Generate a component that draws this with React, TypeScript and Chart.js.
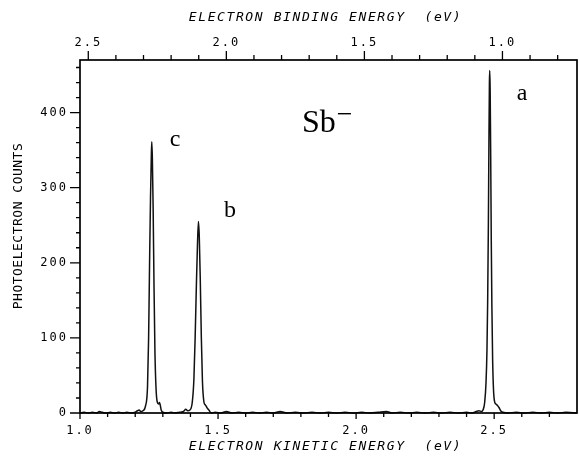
import React, { useEffect, useRef } from 'react';
import { Chart, registerables } from 'chart.js';

Chart.register(...registerables);

// Photon energy (eV): binding energy = PHOTON_ENERGY - kinetic energy
const PHOTON_ENERGY = 3.53;
const KE_MIN = 1.0;
const KE_MAX = 2.8;
const COUNT_MAX = 470;

// Electron kinetic energy (eV) of each sample of the trace
const KE = [
  1.0, 1.015, 1.03, 1.045, 1.06, 1.07, 1.08, 1.095, 1.11, 1.125, 1.14, 1.155, 1.17, 1.185, 1.2,
  1.208, 1.214, 1.22, 1.228, 1.237, 1.2445, 1.2485, 1.252, 1.2555, 1.2585, 1.26, 1.262, 1.265,
  1.268, 1.2715, 1.2755, 1.2796, 1.285, 1.288, 1.2941, 1.3, 1.315, 1.33, 1.345, 1.36, 1.375, 1.383,
  1.39, 1.398, 1.4065, 1.4125, 1.417, 1.4215, 1.4255, 1.429, 1.432, 1.4355, 1.4395, 1.4435,
  1.4487, 1.453, 1.4571, 1.462, 1.4668, 1.4753, 1.49, 1.51, 1.53, 1.55, 1.575, 1.6, 1.625, 1.65,
  1.675, 1.7, 1.725, 1.75, 1.78, 1.81, 1.84, 1.87, 1.9, 1.93, 1.96, 1.99, 2.02, 2.05, 2.08, 2.11,
  2.13, 2.16, 2.19, 2.22, 2.25, 2.28, 2.31, 2.34, 2.37, 2.4, 2.42, 2.435, 2.445, 2.4536, 2.4596,
  2.4656, 2.4704, 2.474, 2.4765, 2.479, 2.481, 2.4828, 2.484, 2.4855, 2.4875, 2.4895, 2.4918,
  2.4945, 2.4975, 2.5015, 2.506, 2.512, 2.518, 2.5236, 2.5319, 2.55, 2.58, 2.61, 2.64, 2.67, 2.7,
  2.73, 2.76, 2.8,
];

// Photoelectron counts at each sample
const COUNTS = [
  0, 1, 0, 1, 0, 2, 1, 0, 1, 0, 1, 0, 1, 0, 1,
  3, 4, 2, 3, 9, 35, 100, 200, 290, 345, 361, 340, 270,
  170, 80, 32, 15, 12, 14, 4, 1, 0, 1, 0, 1, 2, 5,
  3, 4, 14, 45, 100, 170, 225, 255, 235, 180, 100, 42,
  15, 11, 9, 6, 4, 0, 1, 0, 2, 0, 1, 0, 1, 0,
  1, 0, 2, 0, 1, 0, 1, 0, 1, 0, 1, 0, 1, 0, 1, 2,
  0, 1, 0, 1, 0, 1, 0, 1, 0, 1, 0, 2, 3, 2, 4,
  14, 40, 85, 150, 250, 360, 440, 456, 430, 340, 230, 140,
  70, 32, 15, 12, 10, 7, 3, 1, 0, 1, 0, 1, 0, 1,
  0, 1, 0,
];

// Tick values
const KE_TICKS = [1.0, 1.1, 1.2, 1.3, 1.4, 1.5, 1.6, 1.7, 1.8, 1.9, 2.0, 2.1, 2.2, 2.3, 2.4, 2.5, 2.6, 2.7];
const BE_TICKS = [2.5, 2.4, 2.3, 2.2, 2.1, 2.0, 1.9, 1.8, 1.7, 1.6, 1.5, 1.4, 1.3, 1.2, 1.1, 1.0, 0.9, 0.8];
const COUNT_TICKS = [0, 20, 40, 60, 80, 100, 120, 140, 160, 180, 200, 220, 240, 260, 280, 300, 320, 340, 360, 380, 400, 420, 440, 460];

const X_TITLE = 'ELECTRON KINETIC ENERGY  (eV)';
const X2_TITLE = 'ELECTRON BINDING ENERGY  (eV)';
const Y_TITLE = 'PHOTOELECTRON COUNTS';

// Peak labels, anchored in data coordinates (kinetic energy, counts)
const PEAK_LABELS = ['a', 'b', 'c'];
const PEAK_LABEL_KE = [2.601, 1.543, 1.344];
const PEAK_LABEL_COUNTS = [417, 261, 356];
const SPECIES = 'Sb';
const SPECIES_CHARGE = '\u2212';
const SPECIES_KE = 1.804;
const SPECIES_COUNTS = 374;

const isMultiple = (v: number, step: number) => Math.abs(v / step - Math.round(v / step)) < 1e-6;

const framePlugin = {
  id: 'frame',
  beforeDraw(chart: any) {
    chart.ctx.letterSpacing = '2px';
  },
  afterDraw(chart: any) {
    const { ctx, chartArea: a, scales } = chart;
    ctx.save();
    ctx.letterSpacing = '0px';
    ctx.strokeStyle = '#000';
    ctx.fillStyle = '#000';
    ctx.lineCap = 'butt';

    // frame
    ctx.lineWidth = 1.7;
    ctx.strokeRect(a.left, a.top, a.right - a.left, a.bottom - a.top);

    ctx.lineWidth = 1.3;
    ctx.beginPath();
    for (const t of scales.x.ticks) {
      const px = scales.x.getPixelForValue(t.value);
      const len = isMultiple(t.value, 0.5) ? 6 : 4;
      ctx.moveTo(px, a.bottom);
      ctx.lineTo(px, a.bottom + len);
    }
    for (const t of scales.x2.ticks) {
      const px = scales.x2.getPixelForValue(t.value);
      const len = isMultiple(t.value, 0.5) ? 9 : 5;
      ctx.moveTo(px, a.top);
      ctx.lineTo(px, a.top - len);
    }
    for (const t of scales.y.ticks) {
      const py = scales.y.getPixelForValue(t.value);
      const len = isMultiple(t.value, 100) ? 10 : 4;
      ctx.moveTo(a.left, py);
      ctx.lineTo(a.left - len, py);
    }
    ctx.stroke();

    // axis titles
    const cx = (a.left + a.right) / 2 - 3;
    ctx.font = 'italic 13px "DejaVu Sans Mono"';
    ctx.letterSpacing = '1.6px';
    ctx.textAlign = 'center';
    ctx.textBaseline = 'middle';
    ctx.fillText(X2_TITLE, cx, 18);
    ctx.fillText(X_TITLE, cx, 447);
    ctx.save();
    ctx.font = '13px "DejaVu Sans Mono"';
    ctx.letterSpacing = '0.5px';
    ctx.translate(19, 226);
    ctx.rotate(-Math.PI / 2);
    ctx.fillText(Y_TITLE, 0, 0);
    ctx.restore();

    // annotations
    ctx.letterSpacing = '0px';
    ctx.textBaseline = 'alphabetic';
    ctx.font = '24px "Liberation Serif"';
    ctx.textAlign = 'center';
    PEAK_LABELS.forEach((lab, i) => {
      ctx.fillText(lab, scales.x.getPixelForValue(PEAK_LABEL_KE[i]), scales.y.getPixelForValue(PEAK_LABEL_COUNTS[i]));
    });
    ctx.textAlign = 'left';
    ctx.font = '32px "Liberation Serif"';
    const sx = scales.x.getPixelForValue(SPECIES_KE);
    const sy = scales.y.getPixelForValue(SPECIES_COUNTS);
    ctx.fillText(SPECIES, sx, sy);
    const w = ctx.measureText(SPECIES).width;
    ctx.font = '28px "Liberation Serif"';
    ctx.fillText(SPECIES_CHARGE, sx + w + 1, sy - 9);
    ctx.restore();
  },
};

const tickFont = { family: '"DejaVu Sans Mono"', size: 12 };

export default function App() {
  const ref = useRef<HTMLCanvasElement>(null);
  useEffect(() => {
    if (!ref.current) return;
    const data = KE.map((x, i) => ({ x, y: COUNTS[i] }));
    const chart = new Chart(ref.current, {
      type: 'line',
      data: {
        datasets: [
          {
            data,
            borderColor: '#111',
            borderWidth: 1.5,
            pointRadius: 0,
            cubicInterpolationMode: 'monotone',
            fill: false,
            clip: false,
            xAxisID: 'x',
            yAxisID: 'y',
          },
        ],
      },
      options: {
        responsive: false,
        animation: false,
        devicePixelRatio: 1,
        layout: { padding: { left: 0, right: 2, top: 0, bottom: 0 } },
        plugins: { legend: { display: false }, tooltip: { enabled: false } },
        events: [],
        scales: {
          x: {
            type: 'linear',
            position: 'bottom',
            min: KE_MIN,
            max: KE_MAX,
            grid: { display: false, drawTicks: false },
            border: { display: false },
            afterBuildTicks: (s: any) => {
              s.ticks = KE_TICKS.map((value) => ({ value }));
            },
            afterFit: (s: any) => {
              s.height = 45;
            },
            ticks: {
              autoSkip: false,
              maxRotation: 0,
              padding: 11,
              color: '#000',
              font: tickFont,
              callback: (v: any) => (isMultiple(Number(v), 0.5) ? Number(v).toFixed(1) : ''),
            },
          },
          x2: {
            type: 'linear',
            position: 'top',
            reverse: true,
            min: PHOTON_ENERGY - KE_MAX,
            max: PHOTON_ENERGY - KE_MIN,
            grid: { display: false, drawTicks: false },
            border: { display: false },
            afterBuildTicks: (s: any) => {
              s.ticks = BE_TICKS.map((value) => ({ value }));
            },
            afterFit: (s: any) => {
              s.height = 60;
            },
            ticks: {
              autoSkip: false,
              maxRotation: 0,
              padding: 10,
              color: '#000',
              font: tickFont,
              callback: (v: any) => (isMultiple(Number(v), 0.5) ? Number(v).toFixed(1) : ''),
            },
          },
          y: {
            type: 'linear',
            position: 'left',
            min: 0,
            max: COUNT_MAX,
            grid: { display: false, drawTicks: false },
            border: { display: false },
            afterBuildTicks: (s: any) => {
              s.ticks = COUNT_TICKS.map((value) => ({ value }));
            },
            afterFit: (s: any) => {
              s.width = 80;
            },
            ticks: {
              autoSkip: false,
              padding: 12,
              color: '#000',
              font: tickFont,
              callback: (v: any) => (isMultiple(Number(v), 100) ? String(v) : ''),
            },
          },
        },
      },
      plugins: [framePlugin],
    });
    return () => chart.destroy();
  }, []);

  return (
    <div style={{ position: 'absolute', left: 0, top: 0, width: 579, height: 458, background: '#fff' }}>
      <canvas ref={ref} width={579} height={458} style={{ display: 'block' }} />
    </div>
  );
}
